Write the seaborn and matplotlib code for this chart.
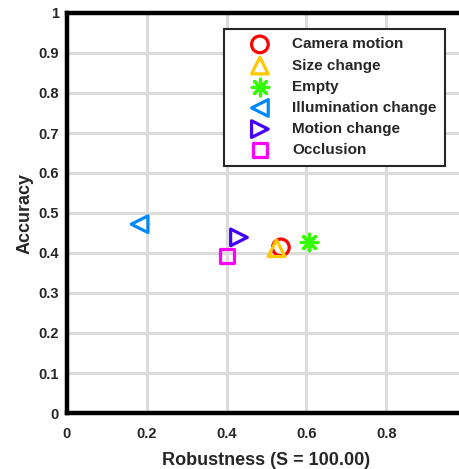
import matplotlib
matplotlib.use("Agg")
import matplotlib.pyplot as plt
from matplotlib.markers import MarkerStyle
import seaborn as sns
import pandas as pd

categories = ["Camera motion", "Size change", "Empty", "Illumination change",
              "Motion change", "Occlusion"]
robustness = [0.536, 0.525, 0.606, 0.182, 0.431, 0.401]
accuracy = [0.414, 0.412, 0.428, 0.472, 0.439, 0.393]
colors = ["#ff0000", "#ffc800", "#33ff00", "#0088ff", "#4400ff", "#ff00ff"]
markers = ["o", "^", (8, 2, 0), "<", ">", "s"]
sizes = [12, 12, 12, 12, 12, 10]
xticks = [0, 0.2, 0.4, 0.6, 0.8]
xticklabels = ["0", "0.2", "0.4", "0.6", "0.8"]
yticks = [0, 0.1, 0.2, 0.3, 0.4, 0.5, 0.6, 0.7, 0.8, 0.9, 1]
yticklabels = ["0", "0.1", "0.2", "0.3", "0.4", "0.5", "0.6", "0.7", "0.8", "0.9", "1"]

df = pd.DataFrame({"Robustness": robustness, "Accuracy": accuracy, "cat": categories})

sns.set_style("white")
plt.rcParams["font.family"] = ["Liberation Sans", "DejaVu Sans"]
plt.rcParams["font.weight"] = "bold"

fig = plt.figure(figsize=(4.6, 4.69), dpi=100)
ax = fig.add_axes([67 / 460, (469 - 413) / 469, 399 / 460, 400 / 469])

for i, cat in enumerate(categories):
    sub = df[df["cat"] == cat]
    m = markers[i]
    if isinstance(m, tuple):
        ms = MarkerStyle(m)
    else:
        ms = MarkerStyle(m, fillstyle="none")
    sns.scatterplot(data=sub, x="Robustness", y="Accuracy", marker=ms,
                    color=colors[i], s=sizes[i] ** 2, linewidths=2.3,
                    label=cat, ax=ax, zorder=3)

ax.set_xlim(0, 1)
ax.set_ylim(0, 1)
ax.set_xticks(xticks)
ax.set_yticks(yticks)
ax.set_xticklabels(xticklabels)
ax.set_yticklabels(yticklabels)
ax.grid(True, color="#dcdcdc", linewidth=2.2, zorder=0)
ax.set_axisbelow(True)
for s in ["left", "top", "bottom", "right"]:
    ax.spines[s].set_color("black")
    ax.spines[s].set_linewidth(3.2)
ax.tick_params(direction="in", length=4, width=1.5, color="#333333",
               labelsize=10.5)
ax.tick_params(axis="x", pad=10)
ax.tick_params(axis="y", pad=6)
for lab in ax.get_xticklabels() + ax.get_yticklabels():
    lab.set_fontweight("bold")
ax.set_xlabel("Robustness (S = 100.00)", fontsize=13, fontweight="bold", labelpad=8)
ax.set_ylabel("Accuracy", fontsize=13, fontweight="bold", labelpad=3)

leg = ax.legend(loc="upper left", bbox_to_anchor=(157 / 399, 1 - 16 / 400),
                frameon=True, fancybox=False, framealpha=1, borderpad=0.55,
                labelspacing=0.47, handlelength=3.6, handletextpad=0.3,
                borderaxespad=0,
                prop={"weight": "bold", "size": 11})
leg.get_frame().set_edgecolor("#262626")
leg.get_frame().set_linewidth(1.5)

fig.savefig("out.png", dpi=100)
